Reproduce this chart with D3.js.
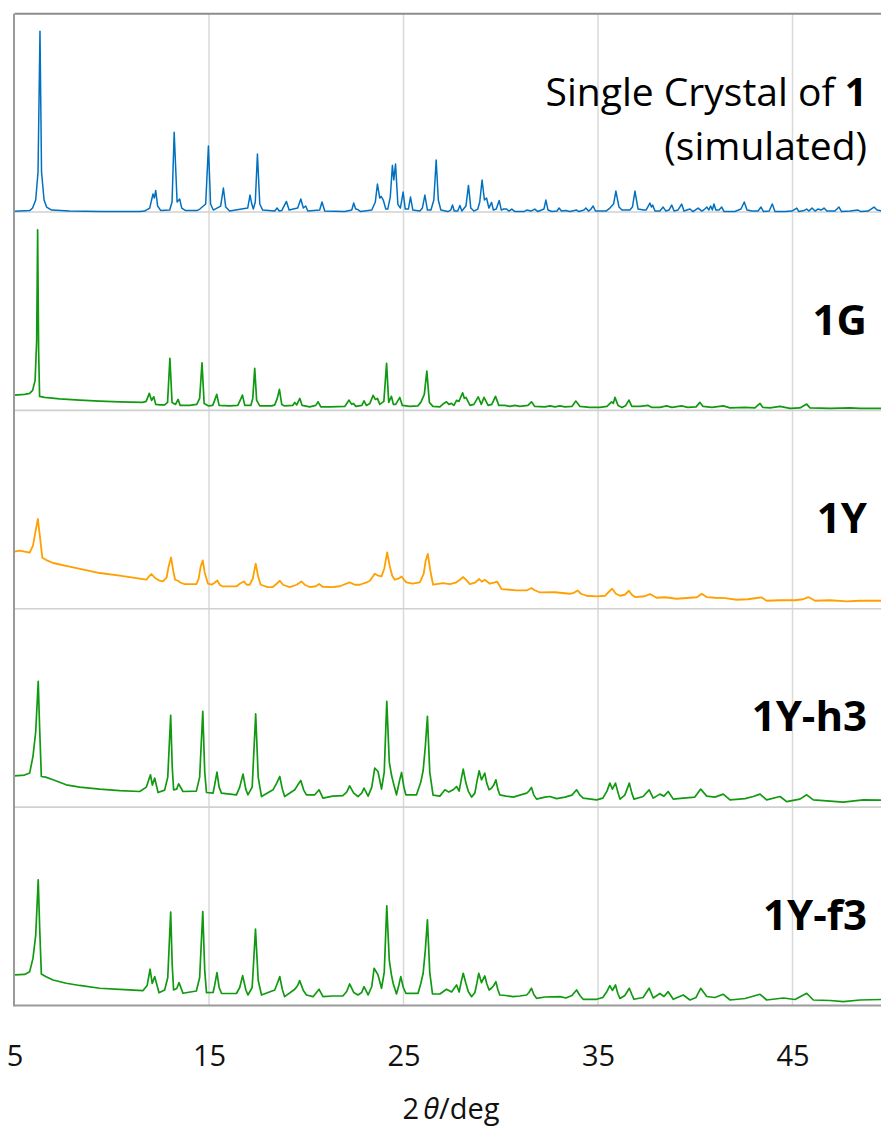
<!DOCTYPE html>
<html>
<head>
<meta charset="utf-8">
<script src="https://cdn.jsdelivr.net/npm/d3@7"></script>
<style>
  html, body { margin: 0; padding: 0; background: #fff; }
  svg { display: block; font-family: "Open Sans", "Noto Sans", sans-serif; }
</style>
</head>
<body>
<svg id="chart" width="881" height="1128"></svg>
<script>
// 2θ tick values shown on the bottom axis
const angleTicks = [5, 15, 25, 35, 45];

// Powder patterns as [2θ (deg), intensity (a.u.)], stacked top to bottom
const simulated1 = [
  [5.0,0.8],[5.78,1.5],[5.93,4],[6.09,12],[6.21,40],[6.31,180.6],[6.39,40],[6.52,12],[6.65,5],[6.91,2],[7.83,1],[9.5,0.6],[11.43,0.6],
  [11.69,1],[11.95,4],[12.12,18],[12.19,14],[12.26,21.6],[12.36,6],[12.52,1.5],
  [12.98,2],[13.1,10],[13.21,79.6],[13.36,10],[13.49,13],[13.6,4],[13.8,1.5],[14.38,1.5],[14.53,3],[14.83,8],[14.97,66],[15.08,8],[15.22,2],
  [15.6,6],[15.74,24],[15.86,5],[16.06,1],
  [16.99,4],[17.11,17],[17.2,8],[17.28,3],[17.38,10],[17.49,58],[17.61,8],[17.76,2],
  [18.38,1],[18.5,4],[18.61,1],[18.74,1.5],[18.98,10.6],[19.12,2],
  [19.56,4],[19.72,13],[19.85,4],[19.97,6],[20.08,1],
  [20.69,2],[20.81,10],[20.95,1],
  [21.98,0.5],[22.34,2],[22.44,9],[22.54,3],[22.65,2.5],[22.8,0.5],
  [23.37,2],[23.55,10],[23.66,28],[23.78,14],[23.85,15.6],[23.96,12],[24.09,3],[24.19,3],[24.32,15],[24.43,46.6],[24.5,32],[24.59,48],[24.71,8],[24.84,4],[24.98,20],[25.09,3],[25.25,3],[25.36,15],[25.48,2],[25.84,1],[25.97,4],[26.1,17],[26.23,2],[26.41,2],[26.56,12],[26.68,52],[26.79,12],[26.92,2],[27.28,0.5],
  [27.43,2],[27.52,7],[27.61,1],[27.79,1],[27.9,6.6],[28.0,1],[28.21,6],[28.34,26.6],[28.46,4],[28.62,1],[28.82,3],[28.92,10],[29.04,32],[29.16,12],[29.27,14],[29.39,4],[29.53,9.6],[29.62,2],[29.77,3],[29.92,11.6],[30.03,2],[30.16,3],[30.3,3],[30.42,1],[30.57,3],[30.73,0.5],
  [31.19,0.5],[31.34,2],[31.55,1],[31.75,3],[31.91,0.5],[32.22,3],[32.32,12],[32.43,2],[32.63,0.5],[32.89,1],[33.0,4],[33.12,1],[33.35,1.5],[33.55,0.5],[33.9,2],[34.02,0.5],[34.28,2],[34.38,4],[34.51,1],[34.64,3],[34.75,6],[34.87,1],
  [35.41,1],[35.61,4],[35.8,8],[35.92,21],[36.08,5],[36.23,2],[36.64,2],[36.77,5],[36.9,21],[37.06,3],[37.36,2],[37.47,2],[37.67,9],[37.75,5],[37.81,7],[37.93,1],[38.18,1],[38.35,5],[38.49,1],[38.65,2],[38.79,7],[38.91,1],[39.11,2],[39.3,8],[39.42,1],[39.73,3],[39.88,0.5],[40.15,4],[40.34,1],[40.49,3],[40.6,5],[40.7,2],[40.79,6],[40.88,2],[40.96,8],[41.06,2],[41.22,2],[41.36,5],[41.48,0.5],[42.04,0.5],[42.35,3],[42.52,10],[42.66,2],[42.92,1],[43.23,1],[43.38,5],[43.51,0.5],[43.8,1],[43.96,8],[44.1,0.5],[44.62,0.5],[44.97,1],[45.22,4],[45.33,0.5],[45.59,1.5],[45.73,3],[45.85,1],[46.0,4],[46.16,1],[46.31,3],[46.47,2],[46.62,4],[46.77,1],[47.18,1],[47.39,5],[47.52,0.5],[47.96,1],[48.37,2],[48.52,0.5],[48.88,1],[49.04,3],[49.19,5],[49.35,2],[49.6,1],[50,1]
];

const pattern1G = [
  [5.0,15.3],[5.52,16],[5.78,17],[5.93,20],[6.06,30],[6.14,70],[6.19,180.3],[6.24,60],[6.29,14],[6.55,13],[7.32,11.5],[8.35,10.3],[9.38,9.3],[10.41,8.6],[11.59,8],
  [11.77,9],[11.93,17],[12.05,10],[12.16,13.6],[12.26,6],[12.46,5.5],[12.72,5.5],[12.87,8],[12.99,52],[13.1,8],[13.28,6],[13.41,11],[13.52,5],[14.01,5],[14.37,6],[14.52,12],[14.64,47.6],[14.75,7],[14.98,4.5],[15.19,5],[15.29,10],[15.4,16],[15.52,5],[16.06,4.5],[16.48,5],[16.6,10],[16.72,15.3],[16.84,5],[17.15,5],[17.25,12],[17.35,42],[17.45,10],[17.61,4.5],[18.23,4.5],[18.38,5.5],[18.51,12],[18.62,21],[18.74,6],[18.89,4.5],[19.3,5],[19.41,8],[19.51,5.5],[19.67,12],[19.79,5],[20.18,3.5],[20.49,5],[20.61,8.6],[20.75,3.5],[21.21,3.5],[21.98,4],[22.2,10.3],[22.34,6],[22.42,7],[22.55,4],[22.86,5],[22.97,9.6],[23.09,5],[23.27,7],[23.44,15],[23.55,11],[23.66,12],[23.78,6],[23.99,9],[24.13,47],[24.24,8],[24.38,14],[24.48,6],[24.6,6],[24.81,13],[24.94,5],[25.32,4],[25.74,4.5],[25.89,8],[25.98,12],[26.07,16],[26.2,39.3],[26.33,8],[26.51,4],
  [26.87,3.5],[27.07,7],[27.21,8.6],[27.33,6],[27.47,7],[27.59,5],[27.73,10],[27.85,9],[28.04,17.6],[28.13,12],[28.21,13],[28.42,5],[28.62,6],[28.84,13.6],[29.0,6],[29.14,13],[29.35,5],[29.54,6],[29.73,14],[29.9,5],[30.21,5],[30.47,4],[30.73,5],[30.98,4],[31.4,5],[31.58,8.6],[31.75,4],[32.27,3.5],[32.53,4.5],[32.79,3.5],[33.04,4.5],[33.3,3.5],[33.66,4],[33.86,9.3],[34.07,4],[34.58,3],[35.1,3],[35.46,4],[35.7,8.6],[35.79,7],[35.87,13],[36.03,5],[36.24,3],[36.43,5],[36.59,10.3],[36.74,4],[37.16,4],[37.58,5],[37.77,3],[38.18,3],[38.53,4.5],[38.8,3],[39.3,4.5],[39.62,3],[40.04,3.5],[40.24,8],[40.4,4],[40.86,3],[41.44,4.5],[41.79,2.5],[42.56,3],[43.07,2.5],[43.33,7],[43.48,3],[43.84,2.5],[44.36,4],[44.87,2],[45.38,2.5],[45.73,6.3],[45.9,2.5],[46.93,2],[47.96,2.5],[48.47,2],[50,2]
];

const pattern1Y = [
  [5.0,57],[5.26,58],[5.78,56],[5.95,63],[6.06,75],[6.2,89.7],[6.32,70],[6.43,51],[6.7,48],[6.98,45.7],[7.83,42],[9.38,35.7],[10.41,33],[11.78,29],[11.9,32],[12.04,34.7],[12.21,31],[12.46,28],[12.63,27.3],[12.82,31],[12.92,42],[13.05,51.3],[13.16,38],[13.26,29],[13.41,28],[13.54,26],[13.75,24.7],[14.35,24.7],[14.47,30],[14.57,42],[14.68,48.3],[14.78,36],[14.95,25],[15.14,24],[15.29,26],[15.43,28.3],[15.55,24],[15.7,22.3],[16.41,22.3],[16.58,25],[16.79,27.3],[16.94,24],[17.09,24],[17.25,30],[17.4,45],[17.53,32],[17.66,24],[18.02,21.7],[18.28,21.7],[18.48,25],[18.64,28],[18.8,24],[19.15,21.7],[19.51,24],[19.75,27.3],[19.92,24],[20.18,21.7],[20.49,22.5],[20.66,24.7],[20.85,22],[21.36,21.7],[21.72,22.5],[22.23,26.3],[22.49,24],[22.75,24],[23.1,26.3],[23.27,28],[23.52,35],[23.7,33],[23.87,32.3],[24.01,40],[24.16,56.3],[24.3,42],[24.42,33],[24.55,29],[24.73,30],[24.9,32.3],[25.02,29],[25.15,26.3],[25.48,25],[25.84,26.3],[26.04,35],[26.14,48],[26.25,54.7],[26.38,38],[26.52,24],
  [27.03,25.6],[27.38,24.5],[27.69,26],[27.9,29],[28.07,31.7],[28.21,29],[28.41,24.7],[28.67,26],[28.89,29.7],[29.03,27],[29.18,29],[29.44,25],[29.64,26],[29.82,27],[30.04,19.7],[30.47,19],[30.81,18.3],[31.33,18.3],[31.58,20.7],[31.75,18.5],[32.01,16.3],[32.78,16.5],[33.55,15],[33.76,16],[33.95,18.3],[34.12,15],[34.41,13],[34.93,12.3],[35.36,13],[35.56,17],[35.73,20],[35.92,15],[36.13,13],[36.38,14],[36.59,18],[36.74,14],[36.9,11.7],[37.41,12.5],[37.67,14.7],[38.01,11],[38.44,11.5],[39.04,10],[39.73,11],[40.09,11.5],[40.33,15],[40.59,11.7],[41.01,11],[41.53,10.7],[42.13,9],[42.71,9.5],[43.07,10.5],[43.42,11.3],[43.67,8],[44.36,8.5],[45.13,8.5],[45.54,9.5],[45.81,11.7],[46.16,8],[46.93,8.5],[47.79,7.3],[48.47,8],[50,8]
];

const pattern1Yh3 = [
  [5.0,31.3],[5.52,32],[5.78,34],[5.95,50.7],[6.09,75],[6.22,125.6],[6.29,80],[6.38,30.6],[6.6,30],[6.98,27.3],[7.66,22.3],[8.35,20],[9.38,18],[10.41,16.5],[11.44,15.6],[11.78,20],[11.99,32.3],[12.09,22],[12.21,29],[12.38,14.6],[12.72,17],[12.88,30],[13.03,91.6],[13.11,40],[13.18,17.3],[13.34,18],[13.44,23.3],[13.66,15.6],[14.35,16],[14.52,30],[14.68,95.6],[14.78,35],[14.87,14.6],[15.21,14],[15.29,22],[15.41,35],[15.52,20],[15.64,14],[16.41,12.3],[16.58,20],[16.75,33],[16.89,18],[17.0,12.3],[17.22,20],[17.4,93],[17.53,30],[17.7,10.6],[18.29,17.3],[18.48,24],[18.64,30.6],[18.77,18],[18.89,10.6],[19.41,17.3],[19.56,22],[19.72,26.6],[19.87,17],[20.01,12.3],[20.44,12.3],[20.66,17.3],[20.86,9],[21.36,11],[21.88,11.5],[22.08,15],[22.23,21.3],[22.44,14],[22.66,10.6],[22.85,14],[22.97,19],[23.18,11],[23.37,20],[23.52,39],[23.69,35.6],[23.87,18],[24.01,35],[24.14,105.6],[24.27,45],[24.38,32.3],[24.47,25],[24.64,12.3],[24.78,25],[24.9,34.6],[25.02,20],[25.12,12.3],[25.67,12.3],[25.89,25],[26.01,36.6],[26.12,60],[26.23,90.6],[26.35,35],[26.52,12],
  [26.87,11],[27.13,17.3],[27.33,15],[27.55,17.3],[27.73,20.6],[27.86,16],[27.97,28],[28.07,38],[28.21,24],[28.33,16],[28.5,10],[28.67,14],[28.77,25],[28.89,36.3],[29.01,27.3],[29.18,34],[29.28,24],[29.4,17.3],[29.53,19],[29.64,22],[29.75,27.3],[29.85,18],[29.95,12.3],[30.26,11],[30.64,10],[30.98,12],[31.33,14],[31.45,16],[31.58,19.6],[31.7,12],[31.84,8],[32.27,10],[32.53,10.6],[32.87,8.5],[33.3,10],[33.66,12],[33.9,17.3],[34.07,12],[34.24,9],[34.93,7.3],[35.25,9],[35.46,16],[35.61,24],[35.74,18],[35.9,24],[36.02,15],[36.13,8],[36.38,12],[36.61,24],[36.74,14],[36.85,8],[37.32,10.6],[37.63,17.3],[37.84,9],[38.18,13],[38.39,11],[38.61,15.6],[38.87,8],[39.38,9],[39.98,10],[40.28,18],[40.59,11],[41.01,10],[41.44,13],[41.79,7.3],[42.56,8.5],[42.98,10.6],[43.33,13],[43.67,7.3],[44.36,10.6],[44.7,5.5],[45.38,8],[45.73,12.3],[46.07,7.3],[46.93,6],[47.61,5],[48.64,7.3],[50,7]
];

const pattern1Yf3 = [
  [5.0,30.5],[5.52,31],[5.78,33.8],[5.95,47],[6.09,70],[6.22,125.5],[6.29,80],[6.38,31.5],[6.6,29],[6.98,25.5],[7.66,22.2],[8.35,20],[9.38,17.2],[10.41,16],[11.6,14.8],[11.82,20],[11.97,36.2],[12.08,22],[12.21,28.8],[12.43,12.8],[12.72,15.5],[12.88,28],[13.03,93.2],[13.11,40],[13.18,15.5],[13.34,17],[13.46,22.8],[13.66,12.2],[14.35,14.5],[14.52,28],[14.68,93.8],[14.78,35],[14.87,12.8],[15.21,13],[15.29,20],[15.41,32.8],[15.52,18],[15.64,12.2],[16.41,12],[16.58,18],[16.73,29.8],[16.89,16],[17.0,10.5],[17.22,18],[17.39,76.2],[17.53,25],[17.7,10.5],[18.38,15.5],[18.51,22],[18.64,28.8],[18.77,16],[18.89,8.8],[19.41,16.2],[19.56,20],[19.66,24.8],[19.85,15],[20.01,10.5],[20.35,8.8],[20.66,16.2],[20.86,8.8],[21.36,9.5],[21.88,9.5],[22.08,14],[22.23,21.5],[22.44,13],[22.66,10.5],[22.85,13],[22.97,18.8],[23.18,10.5],[23.37,19],[23.49,37.2],[23.69,30.5],[23.87,17.2],[24.01,33],[24.14,99.5],[24.27,45],[24.38,30.5],[24.47,22],[24.64,11.5],[24.76,20],[24.86,28.8],[24.99,18],[25.12,12.2],[25.75,12.2],[25.89,22],[26.01,32.2],[26.12,55],[26.23,85.5],[26.35,33],[26.49,11.5],
  [26.87,11.5],[27.21,16.2],[27.47,13.5],[27.73,20.5],[27.86,13.5],[27.97,24],[28.07,32.2],[28.21,22],[28.33,14],[28.5,8.8],[28.67,13],[28.77,22],[28.87,32.2],[29.01,22.8],[29.18,29.5],[29.28,22],[29.4,15.5],[29.53,17.5],[29.64,20],[29.75,23.8],[29.85,16],[29.95,10.5],[30.26,10],[30.64,8.8],[30.98,9.5],[31.33,10.5],[31.45,13],[31.58,17.2],[31.7,11],[31.84,7.2],[32.27,8.5],[33.04,8.8],[33.35,7.5],[33.66,10],[33.9,15.5],[34.07,10],[34.24,6.2],[34.93,6.2],[35.25,8],[35.46,14],[35.61,19.8],[35.74,15],[35.9,20.5],[36.02,12],[36.13,7],[36.38,10],[36.61,17.2],[36.74,11],[36.85,6.2],[37.32,8],[37.63,17.2],[37.84,7.5],[38.18,12],[38.39,9],[38.61,13.8],[38.87,6.2],[39.38,10.5],[39.73,5.5],[40.04,8],[40.28,17.2],[40.59,9],[41.01,8],[41.44,11.2],[41.79,5.5],[42.56,7],[43.33,11.2],[43.67,5.5],[44.53,7.5],[45.13,6],[45.73,12.2],[46.07,5.5],[46.93,5],[47.61,3.8],[48.47,5.5],[50,6.2]
];

const seriesList = [
  { data: simulated1,  color: "#0070c0", width: 1.5 },
  { data: pattern1G,   color: "#119a11", width: 1.7 },
  { data: pattern1Y,   color: "#ffa000", width: 1.8 },
  { data: pattern1Yh3, color: "#119a11", width: 1.7 },
  { data: pattern1Yf3, color: "#119a11", width: 1.7 }
];

// Label for each stacked pattern: lines of [text, bold] parts
const panelLabels = [
  [[["Single Crystal of ", false], ["1", true]], [["(simulated)", false]]],
  [[["1G", true]]],
  [[["1Y", true]]],
  [[["1Y-h3", true]]],
  [[["1Y-f3", true]]]
];

const svg = d3.select("#chart");
const plotTop = 13.7, plotBottom = 1005.5, plotLeft = 14.5, plotRight = 881;
const nPanels = seriesList.length;
const panelH = (plotBottom - plotTop) / nPanels;

const x = d3.scaleLinear().domain([5, 50]).range([plotLeft, plotLeft + 45 * 19.45]);

svg.append("clipPath").attr("id", "plotClip")
  .append("rect").attr("x", plotLeft).attr("y", plotTop)
  .attr("width", plotRight - plotLeft).attr("height", plotBottom - plotTop);

// vertical gridlines
svg.append("g").selectAll("line")
  .data(angleTicks.filter(t => t > 5))
  .join("line")
  .attr("x1", d => x(d)).attr("x2", d => x(d))
  .attr("y1", plotTop).attr("y2", plotBottom)
  .attr("stroke", "#d9d9d9").attr("stroke-width", 1.5);

// horizontal separators between stacked patterns
svg.append("g").selectAll("line")
  .data(d3.range(1, nPanels))
  .join("line")
  .attr("x1", plotLeft).attr("x2", plotRight)
  .attr("y1", i => plotTop + i * panelH).attr("y2", i => plotTop + i * panelH)
  .attr("stroke", "#d0d0d0").attr("stroke-width", 1.6);

// patterns
const lines = svg.append("g").attr("clip-path", "url(#plotClip)");
seriesList.forEach((s, i) => {
  const bottom = plotTop + (i + 1) * panelH;
  const y = d3.scaleLinear().domain([0, 198]).range([bottom, bottom - panelH]);
  const line = d3.line().x(d => x(d[0])).y(d => y(d[1]));
  lines.append("path")
    .datum(s.data)
    .attr("d", line)
    .attr("fill", "none")
    .attr("stroke", s.color)
    .attr("stroke-width", s.width)
    .attr("stroke-linejoin", "round");
});

// frame
svg.append("line").attr("x1", plotLeft).attr("x2", plotRight).attr("y1", plotTop).attr("y2", plotTop)
  .attr("stroke", "#8c8c8c").attr("stroke-width", 2);
svg.append("line").attr("x1", plotLeft).attr("x2", plotRight).attr("y1", plotBottom).attr("y2", plotBottom)
  .attr("stroke", "#9a9a9a").attr("stroke-width", 2);
svg.append("line").attr("x1", plotLeft - 0.5).attr("x2", plotLeft - 0.5).attr("y1", plotTop).attr("y2", plotBottom + 1)
  .attr("stroke", "#9a9a9a").attr("stroke-width", 2);

// bottom axis labels
const axis = d3.axisBottom(x).tickValues(angleTicks).tickSize(0).tickPadding(40).tickFormat(d3.format("d"));
const axisG = svg.append("g").attr("transform", `translate(0,${plotBottom})`).call(axis);
axisG.select(".domain").remove();
axisG.selectAll("text")
  .attr("font-family", "'Open Sans', sans-serif")
  .attr("font-size", 29)
  .attr("fill", "#111");

// axis title
const title = svg.append("text")
  .attr("x", 451).attr("y", 1119)
  .attr("text-anchor", "middle")
  .attr("font-size", 29).attr("fill", "#111");
title.append("tspan").text("2");
title.append("tspan").attr("dx", 4).attr("font-style", "italic").text("θ");
title.append("tspan").text("/deg");

// pattern labels, right aligned inside each panel
panelLabels.forEach((lineSet, i) => {
  const bottom = plotTop + (i + 1) * panelH;
  const twoLines = lineSet.length === 2;
  lineSet.forEach((parts, j) => {
    const baseY = twoLines ? bottom - 106 + j * 53.5 : bottom - 75.8;
    const t = svg.append("text")
      .attr("x", 867).attr("y", baseY)
      .attr("text-anchor", "end")
      .attr("font-size", twoLines ? 39 : 42)
      .attr("fill", "#000");
    parts.forEach(([txt, bold]) => {
      t.append("tspan").attr("font-weight", bold ? 700 : 400).text(txt);
    });
  });
});
</script>
</body>
</html>
